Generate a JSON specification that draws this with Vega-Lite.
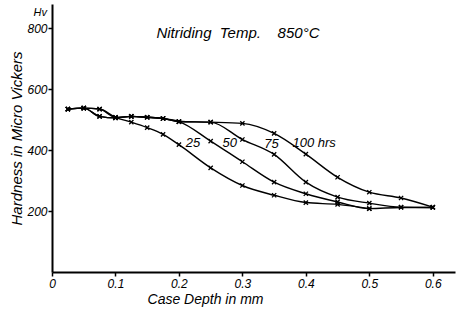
{
  "$schema": "https://vega.github.io/schema/vega-lite/v6.json",
  "width": 403,
  "height": 268,
  "autosize": {"type": "none"},
  "padding": {"left": 52, "top": 4, "right": 2, "bottom": 43},
  "background": "white",
  "config": {
    "view": {"stroke": null},
    "font": "Liberation Sans",
    "axis": {
      "grid": false,
      "domainColor": "black",
      "domainWidth": 2,
      "tickColor": "black",
      "tickWidth": 1.5,
      "labelColor": "black",
      "labelFontStyle": "italic",
      "labelFontSize": 12,
      "titleColor": "black",
      "titleFontStyle": "italic",
      "titleFontWeight": "normal",
      "titleFontSize": 14
    }
  },
  "datasets": {
    "curves": [
      {"d": 0.025, "h": 535, "c": "25"}, {"d": 0.05, "h": 538, "c": "25"}, {"d": 0.075, "h": 535, "c": "25"},
      {"d": 0.1, "h": 508, "c": "25"}, {"d": 0.125, "h": 492, "c": "25"}, {"d": 0.15, "h": 474, "c": "25"},
      {"d": 0.175, "h": 452, "c": "25"}, {"d": 0.2, "h": 418, "c": "25"}, {"d": 0.25, "h": 342, "c": "25"},
      {"d": 0.3, "h": 284, "c": "25"}, {"d": 0.35, "h": 252, "c": "25"}, {"d": 0.4, "h": 228, "c": "25"},
      {"d": 0.45, "h": 222, "c": "25"}, {"d": 0.5, "h": 208, "c": "25"},

      {"d": 0.025, "h": 535, "c": "50"}, {"d": 0.05, "h": 538, "c": "50"}, {"d": 0.075, "h": 535, "c": "50"},
      {"d": 0.1, "h": 508, "c": "50"}, {"d": 0.125, "h": 511, "c": "50"}, {"d": 0.15, "h": 508, "c": "50"},
      {"d": 0.175, "h": 504, "c": "50"}, {"d": 0.2, "h": 494, "c": "50"}, {"d": 0.25, "h": 430, "c": "50"},
      {"d": 0.3, "h": 362, "c": "50"}, {"d": 0.35, "h": 295, "c": "50"}, {"d": 0.4, "h": 257, "c": "50"},
      {"d": 0.45, "h": 230, "c": "50"}, {"d": 0.5, "h": 208, "c": "50"}, {"d": 0.55, "h": 212, "c": "50"},
      {"d": 0.6, "h": 212, "c": "50"},

      {"d": 0.025, "h": 535, "c": "75"}, {"d": 0.05, "h": 538, "c": "75"}, {"d": 0.075, "h": 511, "c": "75"},
      {"d": 0.1, "h": 506, "c": "75"}, {"d": 0.125, "h": 511, "c": "75"}, {"d": 0.15, "h": 508, "c": "75"},
      {"d": 0.175, "h": 504, "c": "75"}, {"d": 0.2, "h": 494, "c": "75"}, {"d": 0.25, "h": 492, "c": "75"},
      {"d": 0.3, "h": 435, "c": "75"}, {"d": 0.35, "h": 386, "c": "75"}, {"d": 0.4, "h": 295, "c": "75"},
      {"d": 0.45, "h": 246, "c": "75"}, {"d": 0.5, "h": 226, "c": "75"}, {"d": 0.55, "h": 213, "c": "75"},
      {"d": 0.6, "h": 212, "c": "75"},

      {"d": 0.025, "h": 535, "c": "100"}, {"d": 0.05, "h": 538, "c": "100"}, {"d": 0.075, "h": 511, "c": "100"},
      {"d": 0.1, "h": 506, "c": "100"}, {"d": 0.125, "h": 511, "c": "100"}, {"d": 0.15, "h": 508, "c": "100"},
      {"d": 0.175, "h": 504, "c": "100"}, {"d": 0.2, "h": 494, "c": "100"}, {"d": 0.25, "h": 492, "c": "100"},
      {"d": 0.3, "h": 488, "c": "100"}, {"d": 0.35, "h": 455, "c": "100"}, {"d": 0.4, "h": 387, "c": "100"},
      {"d": 0.45, "h": 311, "c": "100"}, {"d": 0.5, "h": 262, "c": "100"}, {"d": 0.55, "h": 243, "c": "100"},
      {"d": 0.6, "h": 213, "c": "100"}
    ],
    "labels": [
      {"d": 0.222, "h": 423, "t": "25", "s": 13},
      {"d": 0.280, "h": 423, "t": "50", "s": 13},
      {"d": 0.346, "h": 420, "t": "75", "s": 13},
      {"d": 0.413, "h": 423, "t": "100 hrs", "s": 13},
      {"d": 0.293, "h": 784, "t": "Nitriding\u00a0\u00a0Temp.\u00a0\u00a0\u00a0\u00a0850°C", "s": 15}
    ]
  },
  "layer": [
    {
      "data": {"name": "curves"},
      "mark": {"type": "line", "interpolate": "monotone", "color": "black", "strokeWidth": 1.4},
      "encoding": {
        "x": {"field": "d", "type": "quantitative", "scale": {"domain": [0, 0.635], "nice": false},
              "axis": {"values": [0, 0.1, 0.2, 0.3, 0.4, 0.5, 0.6], "format": ".1~f", "tickSize": 4, "labelPadding": 2,
                       "title": "Case  Depth  in  mm", "titleX": 153, "titlePadding": 3, "labelFlush": false}},
        "y": {"field": "h", "type": "quantitative", "scale": {"domain": [0, 880], "nice": false},
              "axis": {"values": [200, 400, 600, 800], "tickSize": 4, "labelPadding": 1,
                       "title": "Hardness  in  Micro  Vickers", "titleFontSize": 15, "titlePadding": 2}},
        "detail": {"field": "c"}
      }
    },
    {
      "data": {"name": "curves"},
      "mark": {"type": "point", "shape": "M-1,-1L1,1M1,-1L-1,1", "filled": false, "stroke": "black", "strokeWidth": 1.3, "size": 18, "opacity": 1},
      "encoding": {
        "x": {"field": "d", "type": "quantitative"},
        "y": {"field": "h", "type": "quantitative"}
      }
    },
    {
      "data": {"name": "labels"},
      "mark": {"type": "text", "fontStyle": "italic", "color": "black", "baseline": "middle"},
      "encoding": {
        "x": {"field": "d", "type": "quantitative"},
        "y": {"field": "h", "type": "quantitative"},
        "text": {"field": "t"},
        "size": {"field": "s", "type": "quantitative", "scale": null}
      }
    },
    {
      "data": {"values": [{"d": 0, "h": 849, "t": "Hv"}]},
      "mark": {"type": "text", "fontStyle": "italic", "fontSize": 11, "color": "black", "align": "right", "baseline": "middle", "dx": -5},
      "encoding": {
        "x": {"field": "d", "type": "quantitative"},
        "y": {"field": "h", "type": "quantitative"},
        "text": {"field": "t"}
      }
    }
  ]
}
